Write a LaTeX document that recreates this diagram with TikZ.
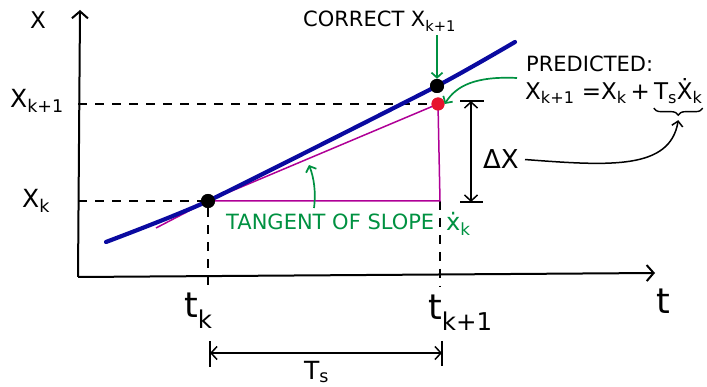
\documentclass[tikz,border=0pt]{standalone}
\usepackage{fontspec}
\setmainfont{DejaVu Sans}
\usetikzlibrary{arrows.meta,decorations.pathreplacing}
\definecolor{curveblue}{RGB}{10,10,160}
\definecolor{tanmag}{RGB}{175,0,150}
\definecolor{ggreen}{RGB}{0,145,65}
\definecolor{predred}{RGB}{230,20,45}
\begin{document}
\begin{tikzpicture}[x=1pt,y=-1pt,
  axisline/.style={line width=2pt,-{Straight Barb[length=7pt,width=16pt,line width=2pt]}},
  guide/.style={line width=1.6pt,dash pattern=on 9pt off 8pt},
  curve/.style={line width=4.2pt,curveblue,line cap=round},
  tanline/.style={line width=1.5pt,tanmag},
  dot/.style={circle,fill=black,inner sep=0pt,minimum size=14pt},
  reddot/.style={circle,fill=predred,inner sep=0pt,minimum size=13pt},
  garrow/.style={line width=1.7pt,ggreen,-{Straight Barb[length=5pt,width=11pt]}},
  karrow/.style={line width=1.5pt,-{Straight Barb[length=5pt,width=11pt]}},
  dimline/.style={line width=1.5pt,{Straight Barb[length=6pt,width=13pt]}-{Straight Barb[length=6pt,width=13pt]}},
  bar/.style={line width=1.5pt},
  lab/.style={inner sep=0pt,font=\fontsize{25}{27}\selectfont},
  tlab/.style={inner sep=0pt,font=\fontsize{35}{37}\selectfont},
  caps/.style={inner sep=0pt,font=\fontsize{21}{23}\selectfont},
]
\useasboundingbox (0,0) rectangle (707,387);
% axes
\coordinate (O) at (78,277);
\coordinate (ytop) at (80,10);
\coordinate (xend) at (655,273);
\coordinate (tb) at (0,287);
\draw[axisline] (O) -- (ytop);
\draw[axisline] (O) -- (xend);
% points
\node[dot] (pk) at (208,201) {};
\node[dot] (pc) at (437,86) {};
\node[reddot] (pp) at (438,104) {};
\coordinate (corner) at (440,201);
\coordinate (tstart) at (156,228);
% guides
\draw[guide] (O |- pp) -- (pp.west);
\draw[guide] (O |- pk) -- (pk);
\draw[guide] (pk) -- (pk |- tb);
\draw[guide] (corner) -- (corner |- tb);
% tangent triangle
\draw[tanline] (tstart) -- (pk.center) -- (pp.center);
\draw[tanline] (pk.center) -- (corner) -- (pp.center);
% true curve
\draw[curve] plot[smooth,tension=0.3] coordinates {(106,242) (208,201) (437,86) (515,42)};
\node[dot] at (pk) {};
\node[dot] at (pc) {};
\node[reddot] at (pp) {};
% axis labels
\node[lab,font=\fontsize{23}{25}\selectfont,anchor=base] (xlab) at (38,29) {X};
\node[lab,anchor=base west] (lk1) at (10,108) {X\textsubscript{k+1}};
\node[lab,anchor=base west] (lk) at (22,208) {X\textsubscript{k}};
\node[tlab,anchor=base west] (ltk) at (184,318) {t\textsubscript{k}};
\node[tlab,anchor=base west] (ltk1) at (428,320) {t\textsubscript{k+1}};
\node[tlab,anchor=base west] (lt) at (656,314) {t};
% Ts dimension
\coordinate (tsl) at (210,353);
\coordinate (tsr) at (442,353);
\draw[dimline] (tsl) -- (tsr);
\draw[bar] (210,341) -- (210,367);
\draw[bar] (442,341) -- (442,366);
\node[lab,font=\fontsize{25}{27}\selectfont,anchor=base west] (lts) at (304,379) {T\textsubscript{s}};
% correct label
\node[caps,anchor=base west] (corr) at (303,27) {CORRECT X\textsubscript{k+1}};
\draw[garrow] ([yshift=-4pt]pc |- corr.south) -- (pc.north);
% predicted label
\node[caps,anchor=base west] (pred) at (526,72) {PREDICTED:};
\node[lab,font=\fontsize{23}{25}\selectfont,anchor=base west] (form1) at (525,100) {X\textsubscript{k+1} =X\textsubscript{k}\,+\,};
\node[lab,font=\fontsize{23}{25}\selectfont,anchor=base west] (form2) at (form1.base east) {T\textsubscript{s}\.X\textsubscript{k}};
\draw[line width=1.4pt,decorate,decoration={brace,mirror,amplitude=7pt}]
  ([yshift=-4pt]form2.south west) -- ([yshift=-4pt]form2.south east);
\coordinate (ps) at (517,78);
\draw[garrow] (ps) .. controls (475,76) and (456,86) .. (pp.east);
% delta x
\coordinate (dt) at (471,101);
\coordinate (db) at (471,202);
\draw[dimline] (dt) -- (db);
\draw[bar] (460,101) -- (484,101);
\draw[bar] (460,202) -- (483,202);
\node[lab,font=\fontsize{26}{28}\selectfont,anchor=base west] (dx) at (483,169) {ΔX};
\coordinate (bt) at ([yshift=-16pt]form2.south);
\draw[karrow] ([xshift=6pt]dx.east) .. controls (610,166) and (670,170) .. (bt);
% tangent label
\node[caps,ggreen,anchor=base west] (tan) at (226,230) {TANGENT OF SLOPE};
\node[caps,ggreen,font=\fontsize{24}{26}\selectfont,anchor=base west] (slope) at (446,231) {\.x\textsubscript{k}};
\coordinate (ta) at (314,208);
\coordinate (tt) at (309,165);
\draw[garrow] (ta) .. controls (316,192) and (314,178) .. (tt);
\end{tikzpicture}
\end{document}
